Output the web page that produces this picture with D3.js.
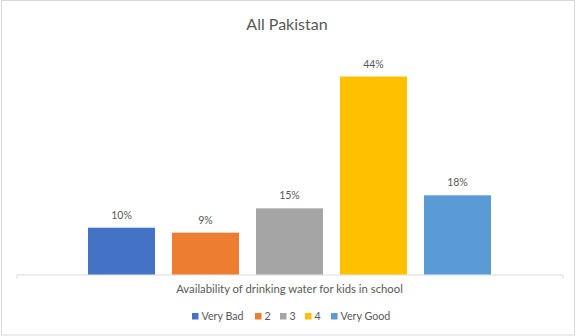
<!DOCTYPE html>
<html>
<head>
<meta charset="utf-8">
<script src="https://cdn.jsdelivr.net/npm/d3@7"></script>
<style>
  body { margin: 0; background: #fff; }
  text { font-family: Lato, "Open Sans", sans-serif; fill: #595959; }
</style>
</head>
<body>
<svg id="chart" width="576" height="336"></svg>
<script>
var title = "All Pakistan";
var category = "Availability of drinking water for kids in school";
var series = ["Very Bad", "2", "3", "4", "Very Good"];
var values = [0.104, 0.093, 0.147, 0.44, 0.176];
var colors = ["#4472C4", "#ED7D31", "#A5A5A5", "#FFC000", "#5B9BD5"];

var svg = d3.select("#chart");

// chart border
svg.append("rect")
  .attr("x", 1.5).attr("y", 0.5)
  .attr("width", 573).attr("height", 334.5)
  .attr("fill", "none")
  .attr("stroke", "#d9d9d9");

svg.append("text")
  .attr("x", 287).attr("y", 30)
  .attr("text-anchor", "middle")
  .style("font-size", "16px")
  .text(title);

var y = d3.scaleLinear().domain([0, 0.5]).range([274.5, 49.5]);
var x = d3.scaleBand().domain(series).range([88, 491]).paddingInner(0.202).paddingOuter(0);
var xCat = d3.scaleBand().domain([category]).range([16.5, 562.5]);

var axis = svg.append("g")
  .attr("transform", "translate(0," + y(0) + ")")
  .call(d3.axisBottom(xCat).tickSizeInner(0).tickSizeOuter(4).tickPadding(10));
axis.select(".domain").attr("stroke", "#d9d9d9");
axis.selectAll("text").style("font-size", "11.3px").style("font-family", null).attr("fill", null);

var bars = svg.append("g").selectAll("g")
  .data(series)
  .enter().append("g");

bars.append("rect")
  .attr("x", function(d) { return x(d); })
  .attr("y", function(d, i) { return y(values[i]); })
  .attr("width", x.bandwidth())
  .attr("height", function(d, i) { return y(0) - y(values[i]); })
  .attr("fill", function(d, i) { return colors[i]; });

bars.append("text")
  .attr("x", function(d) { return x(d) + x.bandwidth() / 2; })
  .attr("y", function(d, i) { return y(values[i]) - 9; })
  .attr("text-anchor", "middle")
  .style("font-size", "10.5px")
  .text(function(d, i) { return d3.format(".0%")(values[i]); });

// legend
var legendX = [192, 255, 280, 305, 331];
var legend = svg.append("g").selectAll("g")
  .data(series)
  .enter().append("g")
  .attr("transform", function(d, i) { return "translate(" + legendX[i] + ",313)"; });

legend.append("rect")
  .attr("width", 6.5).attr("height", 6.5)
  .attr("fill", function(d, i) { return colors[i]; });

legend.append("text")
  .attr("x", 9.5).attr("y", 7)
  .style("font-size", "10.7px")
  .text(function(d) { return d; });
</script>
</body>
</html>
